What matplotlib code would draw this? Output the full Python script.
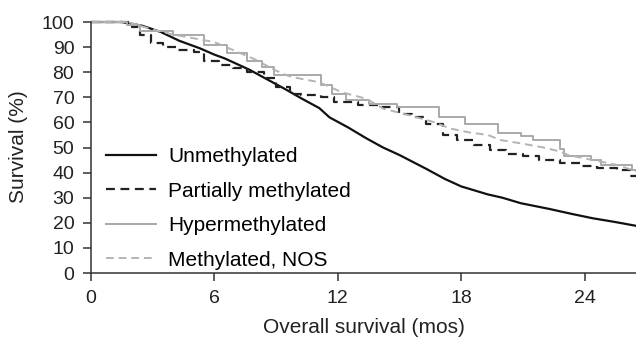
import matplotlib
matplotlib.use('Agg')
import matplotlib.pyplot as plt

plt.rcParams['font.family'] = ['Liberation Sans', 'DejaVu Sans']

# Kaplan-Meier style curves (months, % surviving)
unmeth_t = [0, 1.5, 2.5, 3.4, 4.3, 5.3, 6.0, 6.5, 7.7, 8.6, 9.5, 10.2, 11.1, 11.6, 12.5,
            13.4, 14.2, 15.0, 16.3, 17.2, 18.0, 19.3, 20.0, 20.9, 22.3, 23.4, 24.4, 25.5, 26.5]
unmeth_s = [100, 100, 98.5, 96, 92.5, 89.5, 87, 85.5, 81, 77, 73, 69.7, 65.7, 62, 58,
            53.6, 50, 47, 41.5, 37.5, 34.5, 31.3, 30, 27.8, 25.5, 23.5, 21.8, 20.3, 18.8]

partial_t = [0, 2.0, 2.4, 2.9, 3.5, 4.2, 5.0, 5.5, 6.2, 6.9, 7.6, 8.4, 9.0, 9.7, 10.2,
             11.2, 11.8, 13.0, 14.1, 15.0, 15.6, 16.3, 17.1, 17.8, 18.6, 19.4, 20.2, 21.0,
             21.8, 22.8, 23.8, 24.6, 25.6, 26.2, 26.5]
partial_s = [100, 98, 95, 91.5, 90, 89, 88, 84.5, 83, 81.5, 80, 77.5, 74, 71.5, 71,
             70, 68, 67, 66, 63.5, 62, 59.5, 55, 53, 51, 49, 47.6, 46.5,
             45, 44, 42.5, 42, 41, 38.5, 38.5]

hyper_t = [0, 1.75, 2.4, 4.0, 5.5, 6.6, 7.6, 8.3, 8.9, 11.2, 11.7, 12.4, 13.5, 14.9,
           16.9, 18.2, 19.8, 20.9, 21.5, 22.8, 23.0, 24.3, 24.8, 26.3, 26.5]
hyper_s = [100, 99, 96.5, 95, 91, 87.5, 84.5, 82, 79, 75, 71.5, 69, 67.5, 66.3,
           62.3, 59.5, 55.6, 54.4, 53, 49.6, 46.8, 45, 43, 41, 41]

nos_t = [0, 1.8, 3.0, 4.0, 5.0, 6.0, 7.0, 8.0, 8.9, 9.6, 10.2, 11.1, 12.2, 13.4, 14.2,
         15.4, 16.6, 17.5, 18.4, 19.3, 19.9, 21.0, 22.0, 22.8, 23.2, 24.4, 25.6, 26.5]
nos_s = [100, 100, 97, 95, 93.5, 92, 88.5, 85, 81, 78.5, 77.4, 76, 72, 69.4, 65.5,
         63, 60.3, 57.5, 56, 55, 53, 51.5, 50, 48.4, 47, 45, 43, 40.5]

labels = ['Unmethylated', 'Partially methylated', 'Hypermethylated', 'Methylated, NOS']
xticks = [0, 6, 12, 18, 24]
yticks = list(range(0, 101, 10))

fig = plt.figure(figsize=(6.36, 3.39), dpi=100)
ax = fig.add_axes([91 / 636, 1 - 273 / 339, 1 - 91 / 636, 253.5 / 339])

ax.plot(unmeth_t, unmeth_s, color='#111111', lw=1.6, label=labels[0])
ax.plot(partial_t, partial_s, color='#222222', lw=1.6, ls=(0, (4, 2.5)),
        drawstyle='steps-post', label=labels[1])
ax.plot(hyper_t, hyper_s, color='#a9a9a9', lw=1.4, drawstyle='steps-post', label=labels[2])
ax.plot(nos_t, nos_s, color='#b4b4b4', lw=1.4, ls=(0, (4, 2.5)), label=labels[3])

ax.set_xlim(0, 26.5)
ax.set_ylim(0, 101)
ax.set_xticks(xticks)
ax.set_yticks(yticks)
ax.spines['top'].set_visible(False)
ax.spines['right'].set_visible(False)
ax.spines['left'].set_bounds(0, 100)
for s in ['left', 'bottom']:
    ax.spines[s].set_color('#333333')
    ax.spines[s].set_linewidth(1.1)
ax.tick_params(direction='out', length=6, width=1.1, color='#333333',
               labelsize=14, labelcolor='#222222')
ax.tick_params(axis='x', pad=6.5)
ax.tick_params(axis='y', pad=6)

ax.set_xlabel('Overall survival (mos)', fontsize=15, color='#222222', labelpad=8)
ax.set_ylabel('Survival (%)', fontsize=15, color='#222222', labelpad=10)

ax.legend(loc='upper left', bbox_to_anchor=(0.0, 0.555), frameon=False, fontsize=15,
          handlelength=2.4, handletextpad=0.6, labelspacing=0.75, borderaxespad=0.3)

fig.savefig('out.png', dpi=100)
